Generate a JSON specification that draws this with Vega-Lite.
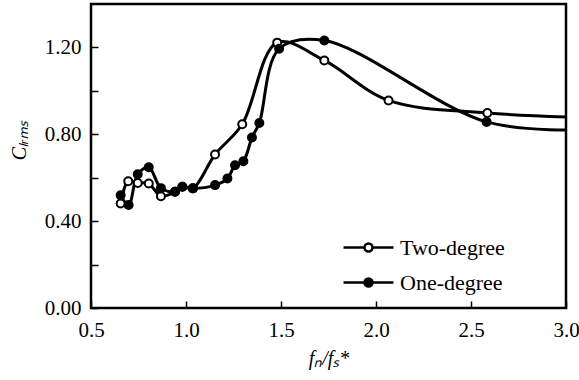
{
  "$schema": "https://vega.github.io/schema/vega-lite/v6.json",
  "width": 475,
  "height": 304,
  "autosize": {"type": "none"},
  "padding": {"left": 91, "top": 4, "right": 13, "bottom": 72},
  "background": "white",
  "config": {
    "view": {"stroke": "black", "strokeWidth": 2.5},
    "axis": {
      "grid": false,
      "domain": false,
      "tickColor": "black",
      "tickWidth": 1.5,
      "tickSize": -7,
      "labelFont": "Liberation Serif",
      "labelFontSize": 21,
      "labelColor": "black",
      "labelFlush": false,
      "titleFont": "Liberation Serif",
      "titleFontSize": 20,
      "titleColor": "black",
      "titleFontWeight": "normal",
      "titleFontStyle": "italic"
    }
  },
  "data": {
    "values": [
      {"series": "Two-degree", "x": 0.656, "y": 0.481},
      {"series": "Two-degree", "x": 0.696, "y": 0.584},
      {"series": "Two-degree", "x": 0.746, "y": 0.576},
      {"series": "Two-degree", "x": 0.804, "y": 0.573},
      {"series": "Two-degree", "x": 0.868, "y": 0.515},
      {"series": "Two-degree", "x": 0.942, "y": 0.535},
      {"series": "Two-degree", "x": 0.981, "y": 0.558},
      {"series": "Two-degree", "x": 1.036, "y": 0.551},
      {"series": "Two-degree", "x": 1.153, "y": 0.707},
      {"series": "Two-degree", "x": 1.296, "y": 0.846},
      {"series": "Two-degree", "x": 1.48, "y": 1.222},
      {"series": "Two-degree", "x": 1.728, "y": 1.14},
      {"series": "Two-degree", "x": 2.066, "y": 0.956},
      {"series": "Two-degree", "x": 2.586, "y": 0.898},
      {"series": "Two-degree", "x": 3.1, "y": 0.877},
      {"series": "One-degree", "x": 0.656, "y": 0.519},
      {"series": "One-degree", "x": 0.698, "y": 0.474},
      {"series": "One-degree", "x": 0.746, "y": 0.616},
      {"series": "One-degree", "x": 0.804, "y": 0.648},
      {"series": "One-degree", "x": 0.868, "y": 0.552},
      {"series": "One-degree", "x": 0.942, "y": 0.535},
      {"series": "One-degree", "x": 0.981, "y": 0.558},
      {"series": "One-degree", "x": 1.036, "y": 0.551},
      {"series": "One-degree", "x": 1.153, "y": 0.566},
      {"series": "One-degree", "x": 1.218, "y": 0.596},
      {"series": "One-degree", "x": 1.258, "y": 0.657},
      {"series": "One-degree", "x": 1.302, "y": 0.676},
      {"series": "One-degree", "x": 1.347, "y": 0.785},
      {"series": "One-degree", "x": 1.386, "y": 0.852},
      {"series": "One-degree", "x": 1.49, "y": 1.194},
      {"series": "One-degree", "x": 1.728, "y": 1.232},
      {"series": "One-degree", "x": 2.582, "y": 0.857},
      {"series": "One-degree", "x": 3.1, "y": 0.82}
    ]
  },
  "encoding": {
    "x": {
      "field": "x",
      "type": "quantitative",
      "scale": {"domain": [0.5, 3.0], "nice": false, "zero": false},
      "axis": {
        "values": [0.5, 1.0, 1.5, 2.0, 2.5, 3.0],
        "format": ".1f",
        "labelPadding": 18,
        "title": "fₙ/fₛ*",
        "titlePadding": 8
      }
    },
    "y": {
      "field": "y",
      "type": "quantitative",
      "scale": {"domain": [0, 1.4], "nice": false},
      "axis": {
        "values": [0, 0.2, 0.4, 0.6, 0.8, 1.0, 1.2],
        "labelExpr": "round(datum.value * 10) % 4 == 0 ? format(datum.value, '.2f') : ''",
        "labelPadding": 17,
        "title": "Cₗᵣₘₛ",
        "titleAngle": -90,
        "titleX": -72,
        "titleY": 136,
        "titleBaseline": "middle"
      }
    }
  },
  "layer": [
    {
      "mark": {"type": "line", "interpolate": "catmull-rom", "strokeWidth": 3, "color": "black", "clip": true},
      "encoding": {"detail": {"field": "series"}}
    },
    {
      "mark": {"type": "circle", "size": 64, "stroke": "black", "strokeWidth": 2, "opacity": 1, "clip": true},
      "encoding": {
        "fill": {
          "field": "series",
          "type": "nominal",
          "scale": {"domain": ["Two-degree", "One-degree"], "range": ["white", "black"]},
          "legend": {
            "orient": "none",
            "legendX": 266,
            "legendY": 232,
            "title": null,
            "symbolType": "M-2.5,0L-0.4,0M0.4,0L2.5,0M0.4,0A0.4,0.4,0,1,1,-0.4,0A0.4,0.4,0,1,1,0.4,0Z",
            "symbolSize": 400,
            "symbolStrokeColor": "black",
            "symbolStrokeWidth": 2.5,
            "symbolOpacity": 1,
            "labelFont": "Liberation Serif",
            "labelFontSize": 22,
            "labelColor": "black",
            "labelOffset": 20,
            "rowPadding": 12
          }
        }
      }
    }
  ]
}
